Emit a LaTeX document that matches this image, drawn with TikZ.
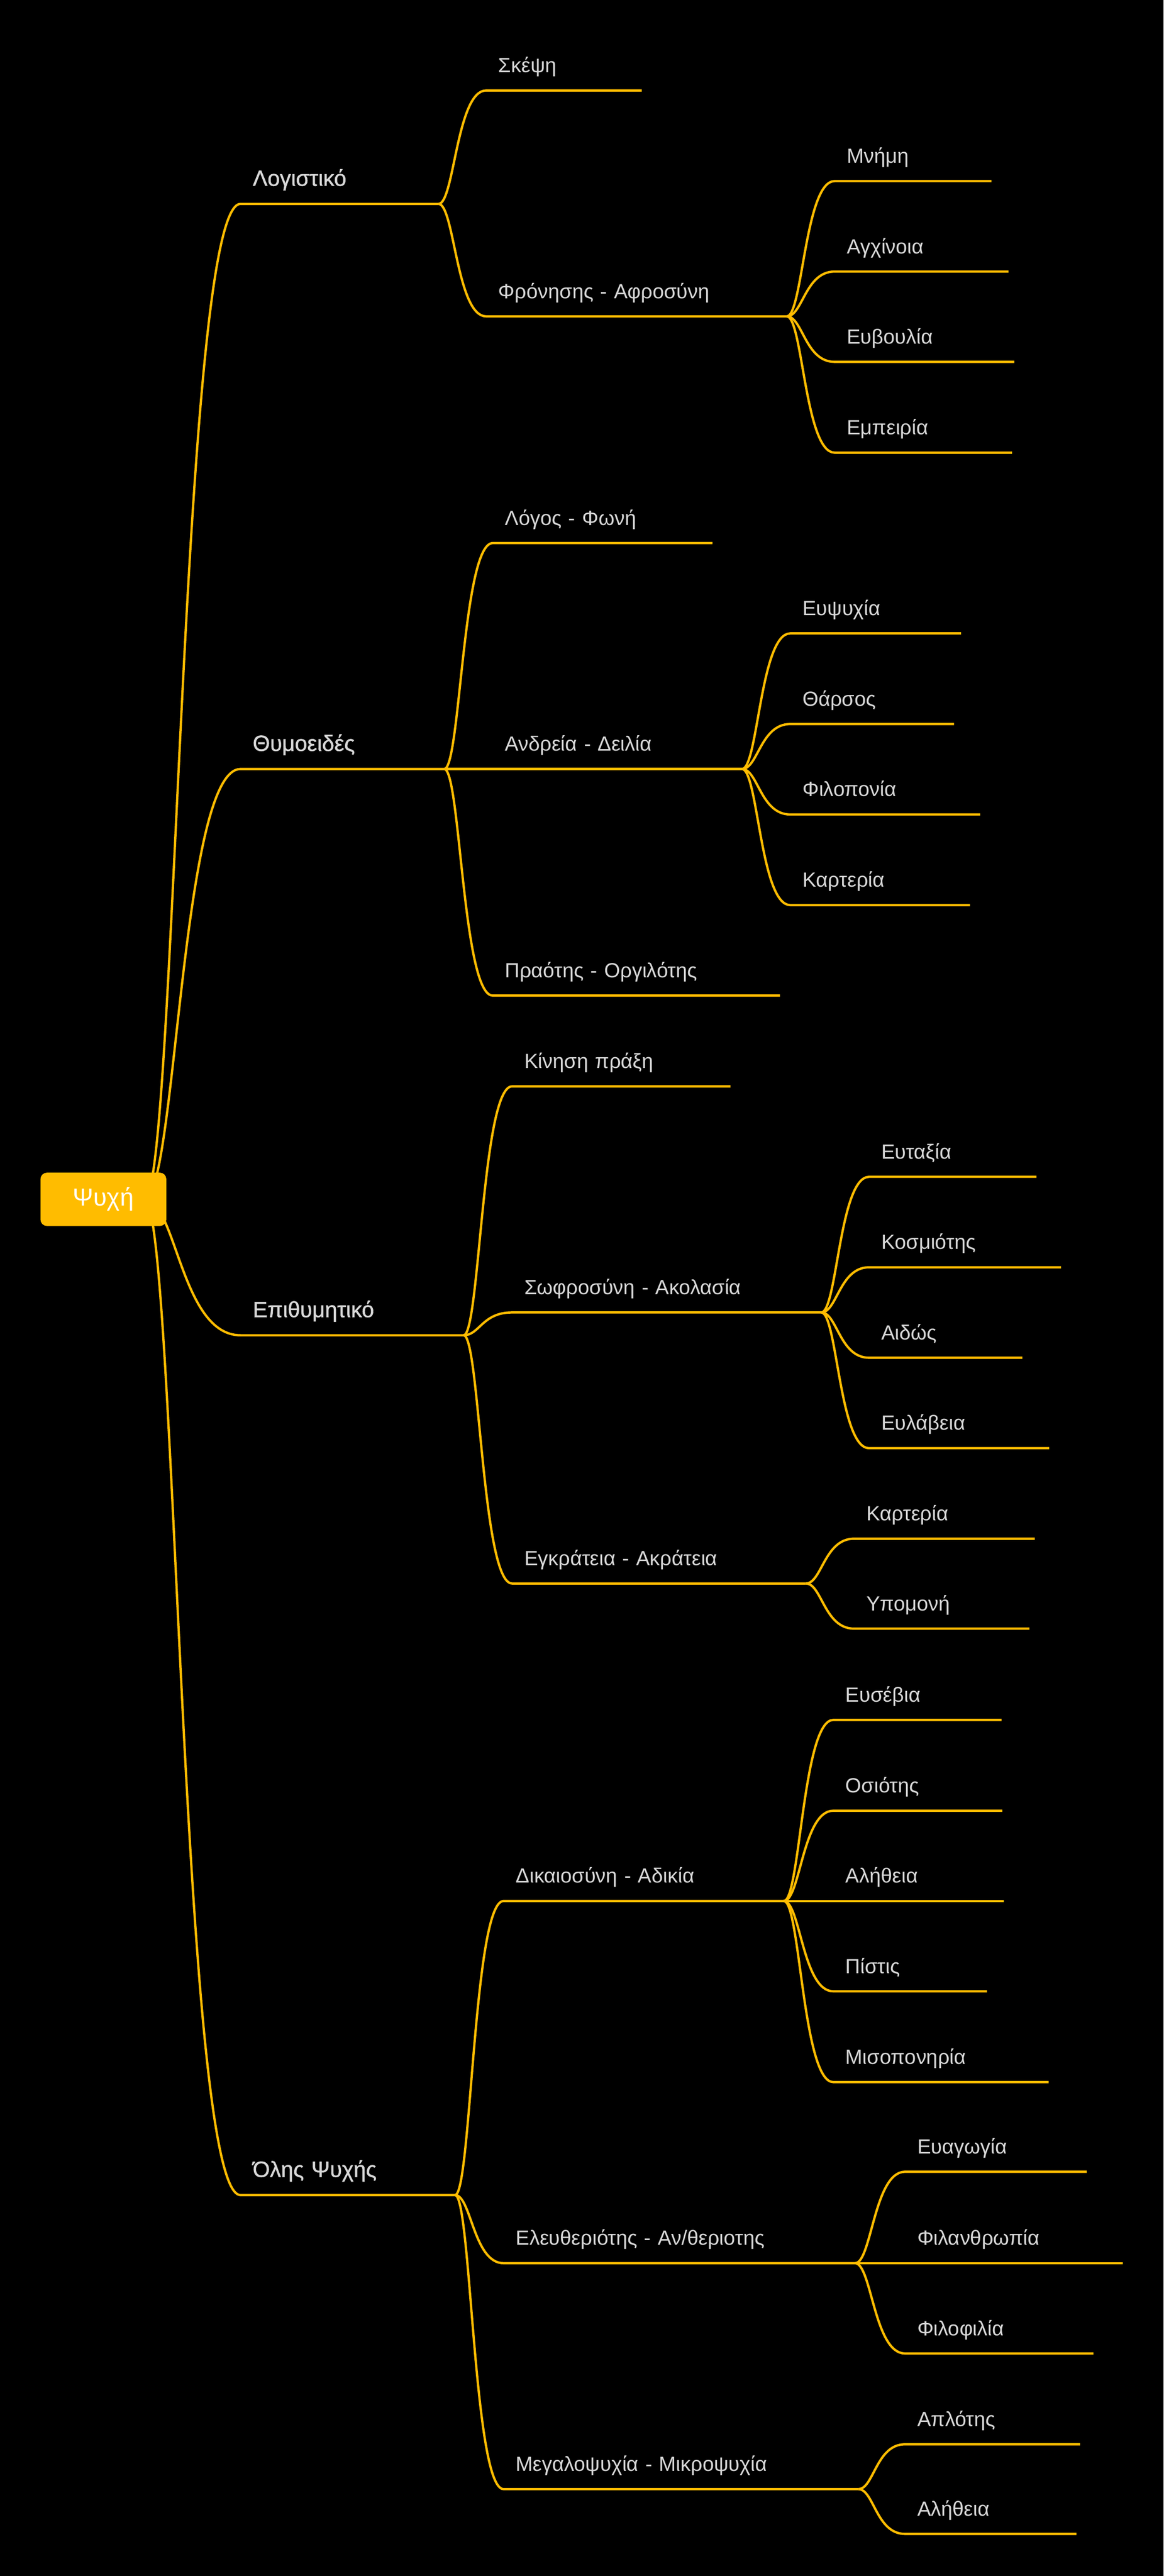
\documentclass[tikz,border=0pt]{standalone}
\usepackage{fontspec}
\setmainfont{Liberation Sans}
\newfontfamily\headfont{Liberation Sans}[FakeBold=1]
\usetikzlibrary{calc}
\definecolor{amber}{HTML}{FFBC00}
\definecolor{labelgray}{HTML}{D8D8D8}
\tikzset{
  branchline/.style={draw=amber, line width=1.4pt},
  topic/.style={anchor=south west, inner xsep=7.5pt, inner ysep=7.5pt, outer sep=0pt, text depth=3.5pt, align=left, text=labelgray, font=\fontsize{12.5}{15}\selectfont},
  maintopic/.style={topic, font=\headfont\fontsize{13.5}{16}\selectfont},
  rootbox/.style={fill=amber, rounded corners=4pt, minimum width=76.7pt, minimum height=32.5pt, inner sep=0pt, text=white, font=\fontsize{15}{18}\selectfont}
}
\newcommand{\connect}[2]{%
  \draw[branchline] let \p1=(#1), \p2=(#2.south west) in
    (\p1) .. controls ({\x1+0.33*(\x2-\x1)},\y1) and ({\x1+0.38*(\x2-\x1)},\y2) .. (\p2) -- (#2.south east);}
\begin{document}
\begin{tikzpicture}[x=1pt,y=-1pt]
\fill[black] (0,0) rectangle (709,1569.05);
\useasboundingbox (0,0) rectangle (709,1569.05);
\coordinate (hub) at (88,730.5);
\node[maintopic, text width=105.7pt] (logistiko) at (146.5,124.2) {Λογιστικό};
\node[maintopic, text width=109.2pt] (thymoeides) at (146.5,468.4) {Θυμοειδές};
\node[maintopic, text width=121pt] (epithymitiko) at (146.5,813.3) {Επιθυμητικό};
\node[maintopic, text width=115.8pt] (olis) at (146.5,1337) {Όλης Ψυχής};
\connect{hub}{logistiko}
\connect{hub}{thymoeides}
\connect{hub}{epithymitiko}
\connect{hub}{olis}
\node[topic, text width=79.8pt] (skepsi) at (296.2,55.1) {Σκέψη};
\node[topic, text width=168.2pt] (fronisi) at (296.2,192.7) {Φρόνησης - Αφροσύνη};
\connect{logistiko.south east}{skepsi}
\connect{logistiko.south east}{fronisi}
\node[topic, text width=118.9pt] (logos) at (300.2,330.8) {Λόγος - Φωνή};
\node[topic, text width=136.9pt] (andreia) at (300.2,468.4) {Ανδρεία - Δειλία};
\node[topic, text width=160pt] (praotis) at (300.2,606.4) {Πραότης - Οργιλότης};
\connect{thymoeides.south east}{logos}
\connect{thymoeides.south east}{andreia}
\connect{thymoeides.south east}{praotis}
\node[topic, text width=118.1pt] (kinisi) at (312,661.7) {Κίνηση πράξη};
\node[topic, text width=173.4pt] (sofrosyni) at (312,799.4) {Σωφροσύνη - Ακολασία};
\node[topic, text width=164pt] (egkrateia) at (312,964.5) {Εγκράτεια - Ακράτεια};
\connect{epithymitiko.south east}{kinisi}
\connect{epithymitiko.south east}{sofrosyni}
\connect{epithymitiko.south east}{egkrateia}
\node[topic, text width=155.8pt] (dikaiosyni) at (306.8,1157.9) {Δικαιοσύνη - Αδικία};
\node[topic, text width=199.2pt] (eleftheriotis) at (306.8,1378.5) {Ελευθεριότης - Αν/θεριοτης};
\node[topic, text width=201.2pt] (megalopsychia) at (306.8,1516.1) {Μεγαλοψυχία - Μικροψυχία};
\connect{olis.south east}{dikaiosyni}
\connect{olis.south east}{eleftheriotis}
\connect{olis.south east}{megalopsychia}
\foreach \nm/\txt/\yy/\ee in {mnimi/Μνήμη/110.3/604, agchinoia/Αγχίνοια/165.4/614.5, evvoulia/Ευβουλία/220.4/618, empeiria/Εμπειρία/275.7/616.6}{
  \pgfmathsetmacro\tw{\ee-508.5-15}
  \node[topic, text width=\tw pt] (\nm) at (508.5,\yy) {\txt};
  \connect{fronisi.south east}{\nm}
}
\foreach \nm/\txt/\yy/\ee in {efpsychia/Ευψυχία/385.8/585.5, tharsos/Θάρσος/441/581.3, filoponia/Φιλοπονία/496.1/597.2, karteria/Καρτερία/551.3/591}{
  \pgfmathsetmacro\tw{\ee-481.5-15}
  \node[topic, text width=\tw pt] (\nm) at (481.5,\yy) {\txt};
  \connect{andreia.south east}{\nm}
}
\foreach \nm/\txt/\yy/\ee in {eftaxia/Ευταξία/716.8/631.5, kosmiotis/Κοσμιότης/771.9/646.5, aidos/Αιδώς/827/622.9, evlaveia/Ευλάβεια/882.1/639.3}{
  \pgfmathsetmacro\tw{\ee-529.5-15}
  \node[topic, text width=\tw pt] (\nm) at (529.5,\yy) {\txt};
  \connect{sofrosyni.south east}{\nm}
}
\foreach \nm/\txt/\yy/\ee in {karteriab/Καρτερία/937.2/630.5, ypomoni/Υπομονή/992/627.2}{
  \pgfmathsetmacro\tw{\ee-520.4-15}
  \node[topic, text width=\tw pt] (\nm) at (520.4,\yy) {\txt};
  \connect{egkrateia.south east}{\nm}
}
\foreach \nm/\txt/\yy/\ee in {efsevia/Ευσέβια/1047.6/610.2, osiotis/Οσιότης/1102.9/610.7, alitheia/Αλήθεια/1157.9/611.5, pistis/Πίστις/1212.9/601.4, misoponiria/Μισοπονηρία/1268.2/638.9}{
  \pgfmathsetmacro\tw{\ee-507.7-15}
  \node[topic, text width=\tw pt] (\nm) at (507.7,\yy) {\txt};
  \connect{dikaiosyni.south east}{\nm}
}
\foreach \nm/\txt/\yy/\ee in {evagogia/Ευαγωγία/1322.8/662.1, filanthropia/Φιλανθρωπία/1378.5/684, filofilia/Φιλοφιλία/1433.5/666.2}{
  \pgfmathsetmacro\tw{\ee-551.4-15}
  \node[topic, text width=\tw pt] (\nm) at (551.4,\yy) {\txt};
  \connect{eleftheriotis.south east}{\nm}
}
\foreach \nm/\txt/\yy/\ee in {aplotis/Απλότης/1488.8/658, alitheiab/Αλήθεια/1543.4/655.8}{
  \pgfmathsetmacro\tw{\ee-551.4-15}
  \node[topic, text width=\tw pt] (\nm) at (551.4,\yy) {\txt};
  \connect{megalopsychia.south east}{\nm}
}
\node[rootbox] (psyche) at (63,730.5) {Ψυχή};
\end{tikzpicture}
\end{document}
